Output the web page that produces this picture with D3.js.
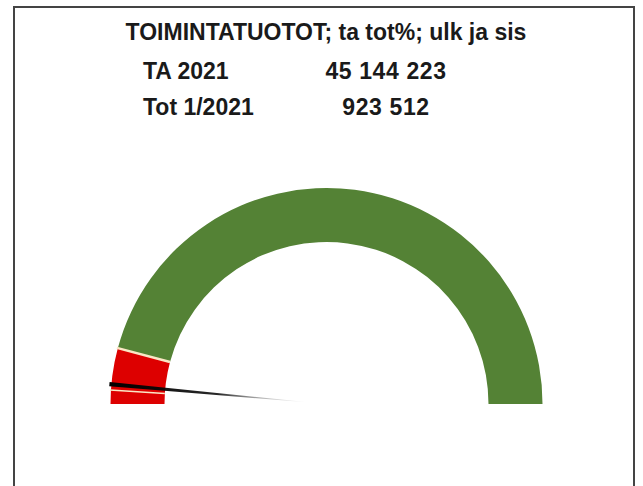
<!DOCTYPE html>
<html lang="fi">
<head>
<meta charset="utf-8">
<title>Toimintatuotot</title>
<script src="https://d3js.org/d3.v7.min.js"></script>
<style>
  body { margin: 0; background: #fff; }
  svg { display: block; }
  text { font-family: "Liberation Sans", Arial, sans-serif; font-weight: bold; fill: #1a1a1a; }
</style>
</head>
<body>
<div id="chart"></div>
<script>
// chart values
var title = "TOIMINTATUOTOT; ta tot%; ulk ja sis";
var rowLabels = ["TA 2021", "Tot 1/2021"];
var rowValues = [45144223, 923512];
// gauge bands as share of the budget (month 1 of 12 in red)
var bandNames = ["alle", "yli"];
var bandStops = [0, 1 / 12, 1];
var bandColors = ["#dd0000", "#548235"];
// needle position, share of budget
var needleShare = 0.029;

var width = 643, height = 486;
var cx = 326.5, cy = 404, outerR = 216, innerR = 162;

var svg = d3.select("#chart").append("svg")
  .attr("width", width)
  .attr("height", height);

// frame
svg.append("rect")
  .attr("x", 14).attr("y", 7)
  .attr("width", 620).attr("height", 490)
  .attr("fill", "none")
  .attr("stroke", "#444")
  .attr("stroke-width", 2);

// texts
svg.append("text")
  .attr("x", 326).attr("y", 40)
  .attr("text-anchor", "middle")
  .style("font-size", "23px")
  .text(title);

var fmt = d3.format(",d");
rowLabels.forEach(function(lab, i) {
  var y = 79 + i * 36;
  svg.append("text").attr("x", 143).attr("y", y).style("font-size", "23px").text(lab);
  svg.append("text").attr("x", 386).attr("y", y).attr("text-anchor", "middle")
    .style("font-size", "23px")
    .style("letter-spacing", "0.6px")
    .text(fmt(rowValues[i]).replace(/,/g, " "));
});

// gauge
var angle = d3.scaleLinear().domain([0, 1]).range([-Math.PI / 2, Math.PI / 2]);
var arc = d3.arc().innerRadius(innerR).outerRadius(outerR);

var g = svg.append("g").attr("transform", "translate(" + cx + "," + cy + ")");

var bands = bandNames.map(function(n, i) {
  return { name: n, from: bandStops[i], to: bandStops[i + 1], color: bandColors[i] };
});

g.selectAll("path.band")
  .data(bands)
  .enter().append("path")
  .attr("class", "band")
  .attr("d", function(d) { return arc({ startAngle: angle(d.from), endAngle: angle(d.to) }); })
  .attr("fill", function(d) { return d.color; });

// separators (band boundary and actual share)
var share = rowValues[1] / rowValues[0];
var marks = [bandStops[1], share];
g.selectAll("line.sep")
  .data(marks)
  .enter().append("line")
  .attr("class", "sep")
  .attr("x1", function(d) { return innerR * Math.sin(angle(d)); })
  .attr("y1", function(d) { return -innerR * Math.cos(angle(d)); })
  .attr("x2", function(d) { return (outerR + 1) * Math.sin(angle(d)); })
  .attr("y2", function(d) { return -(outerR + 1) * Math.cos(angle(d)); })
  .attr("stroke", "#fbe7c6")
  .attr("stroke-width", function(d, i) { return i === 0 ? 2.5 : 1.5; });

// needle: thin wedge fading toward centre
var grad = svg.append("defs").append("linearGradient")
  .attr("id", "needleGrad")
  .attr("gradientUnits", "userSpaceOnUse")
  .attr("x1", -outerR).attr("y1", 0).attr("x2", -20).attr("y2", 0);
grad.append("stop").attr("offset", "0%").attr("stop-color", "#000").attr("stop-opacity", 1);
grad.append("stop").attr("offset", "55%").attr("stop-color", "#111").attr("stop-opacity", 0.9);
grad.append("stop").attr("offset", "100%").attr("stop-color", "#999").attr("stop-opacity", 0);

var needleArc = d3.arc().innerRadius(0).outerRadius(outerR + 2);
var half = 0.55 * Math.PI / 180;
g.append("path")
  .attr("d", needleArc({ startAngle: angle(needleShare) - half, endAngle: angle(needleShare) + half }))
  .attr("fill", "url(#needleGrad)");
</script>
</body>
</html>
